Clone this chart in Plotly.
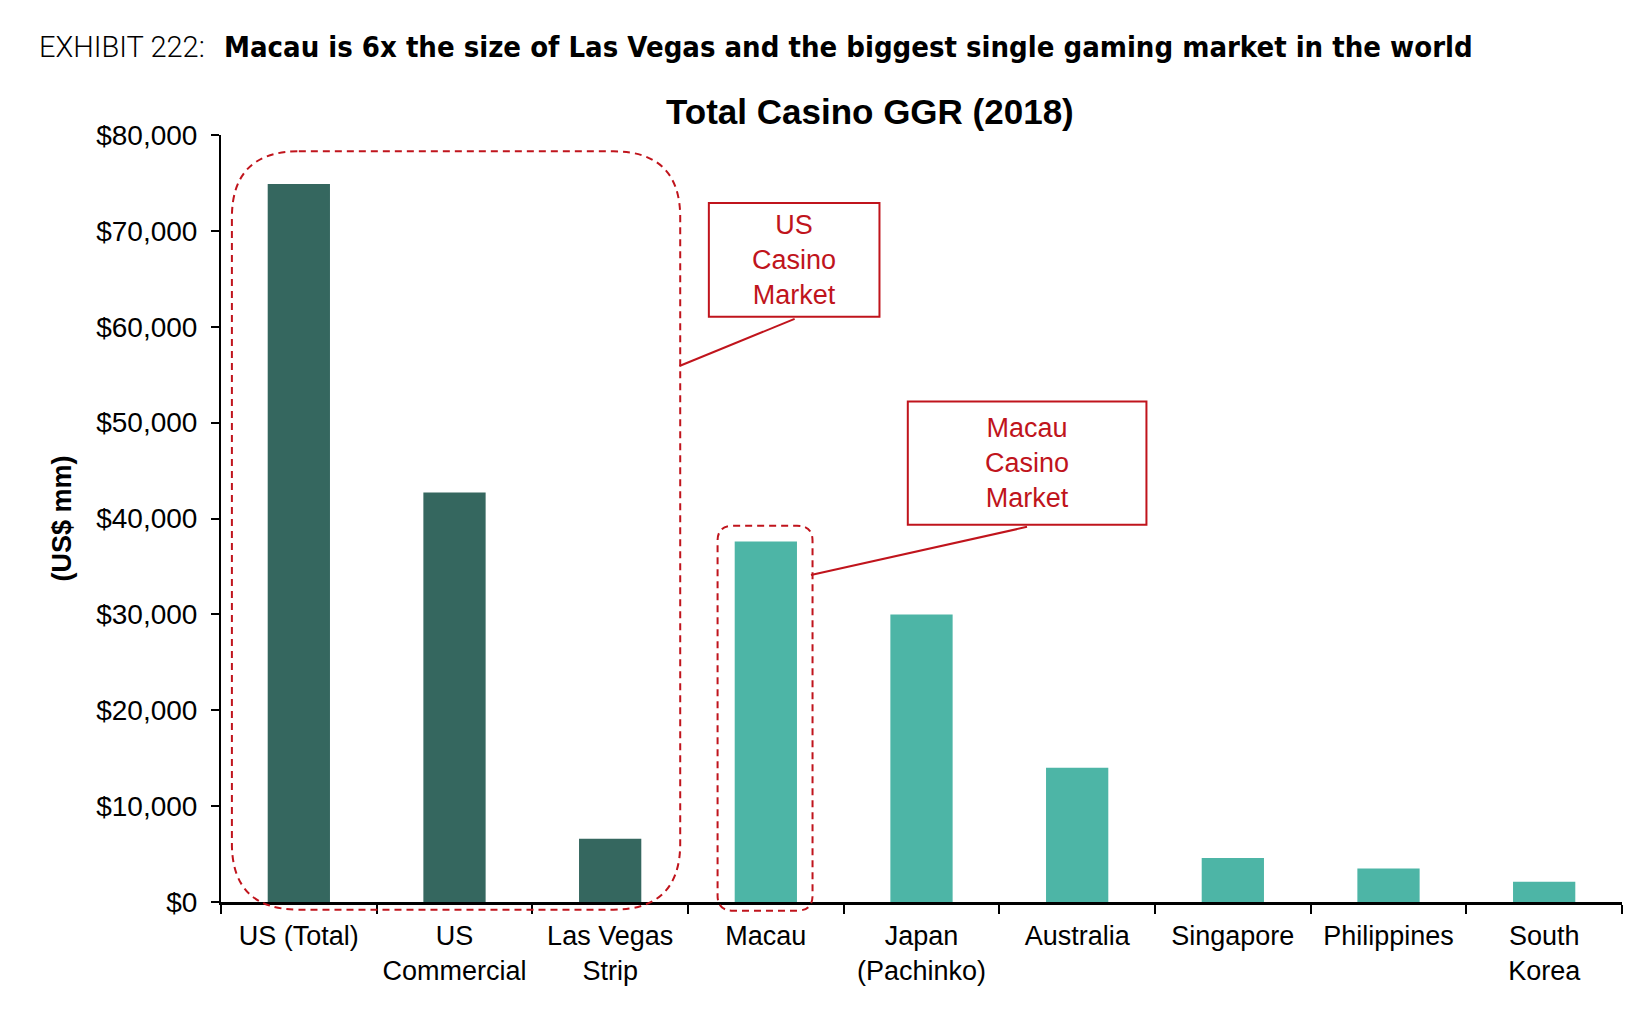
import plotly.graph_objects as go

# Total casino GGR 2018, US$ mm
markets = ['US (Total)', 'US<br>Commercial', 'Las Vegas<br>Strip', 'Macau', 'Japan<br>(Pachinko)',
           'Australia', 'Singapore', 'Philippines', 'South<br>Korea']
ggr = [74900, 42700, 6600, 37600, 30000, 14000, 4600, 3500, 2100]
us_markets = ['US (Total)', 'US<br>Commercial', 'Las Vegas<br>Strip']
y_ticks = [0, 10000, 20000, 30000, 40000, 50000, 60000, 70000, 80000]
y_labels = ['$' + format(v, ',') for v in y_ticks]

DARK = '#35675F'
LIGHT = '#4DB5A6'
RED = '#C0141C'
FONT = 'Liberation Sans, Arial, sans-serif'

W, H = 1640, 1010
L, R, T, B = 213, 26, 127, 116
YMAX = 80000
n = len(markets)
PW, PH = W - L - R, H - T - B

# helpers: data position -> paper position (so shapes aren't clipped to the plot area)
def px(i):
    return (i + 0.5) / n
def py(v):
    return v / YMAX
def pix_x(x):
    return (x - L) / PW
def pix_y(y):
    return (H - B - y) / PH

def rounded(x0, x1, y0, y1, rx, ry):
    a0, a1, b0, b1 = px(x0), px(x1), py(y0), py(y1)
    ax, by = rx / n, ry / YMAX
    return (f'M {a0+ax},{b1} L {a1-ax},{b1} Q {a1},{b1} {a1},{b1-by} '
            f'L {a1},{b0+by} Q {a1},{b0} {a1-ax},{b0} L {a0+ax},{b0} '
            f'Q {a0},{b0} {a0},{b0+by} L {a0},{b1-by} Q {a0},{b1} {a0+ax},{b1} Z')

colors = [DARK if m in us_markets else LIGHT for m in markets]

fig = go.Figure(go.Bar(x=markets, y=ggr, marker=dict(color=colors, line=dict(width=0)),
                       width=0.4, showlegend=False))

dash = dict(color=RED, width=2, dash='7px,5px')
shapes = [
    dict(type='path', xref='paper', yref='paper', path=rounded(-0.43, 2.45, -800, 78300, 0.43, 6900), line=dash),
    dict(type='path', xref='paper', yref='paper', path=rounded(2.69, 3.30, -900, 39240, 0.1, 1550), line=dash),
    dict(type='rect', xref='paper', yref='paper', x0=px(2.634), x1=px(3.73), y0=py(61030), y1=py(72910),
         line=dict(color=RED, width=2), fillcolor='white'),
    dict(type='rect', xref='paper', yref='paper', x0=px(3.912), x1=px(5.445), y0=py(39350), y1=py(52200),
         line=dict(color=RED, width=2), fillcolor='white'),
    dict(type='line', xref='paper', yref='paper', x0=px(3.185), y0=py(60820), x1=px(2.445), y1=py(55910),
         line=dict(color=RED, width=2)),
    dict(type='line', xref='paper', yref='paper', x0=px(4.678), y0=py(39130), x1=px(3.29), y1=py(34110),
         line=dict(color=RED, width=2)),
]

ann = dict(xref='paper', yref='paper', showarrow=False, xanchor='center', yanchor='middle')
annotations = [
    dict(ann, text='US<br>Casino<br>Market', x=px(3.18), y=py(66970),
         font=dict(family=FONT, size=27, color=RED)),
    dict(ann, text='Macau<br>Casino<br>Market', x=px(4.68), y=py(45780),
         font=dict(family=FONT, size=27, color=RED)),
    dict(ann, text='(US$ mm)', x=pix_x(53), y=0.5, textangle=-90,
         font=dict(family=FONT, size=27, color='black', weight='bold')),
    dict(ann, text='Total Casino GGR (2018)', x=pix_x(862), y=pix_y(103),
         font=dict(family=FONT, size=35, color='black', weight='bold')),
    dict(ann, text='EXHIBIT 222:', x=pix_x(29), y=pix_y(39), xanchor='left',
         font=dict(family='Roboto', size=29, color='black', weight=300)),
    dict(ann, text='Macau is 6x the size of Las Vegas and the biggest single gaming market in the world',
         x=pix_x(214), y=pix_y(39), xanchor='left',
         font=dict(family='DejaVu Sans Condensed', size=29, color='black', weight='bold')),
]

fig.update_layout(
    width=W, height=H,
    margin=dict(l=L, r=R, t=T, b=B),
    plot_bgcolor='white', paper_bgcolor='white',
    shapes=shapes, annotations=annotations,
    font=dict(family=FONT, size=28, color='black'),
)
fig.update_xaxes(type='category', showline=True, linecolor='black', linewidth=2.5,
                 ticks='outside', tickson='boundaries', ticklen=9, tickwidth=2, tickcolor='black',
                 tickangle=0, automargin=False, ticklabelstandoff=8,
                 tickfont=dict(family=FONT, size=27, color='black'), showgrid=False)
fig.update_yaxes(range=[0, YMAX], tickmode='array', tickvals=y_ticks, ticktext=y_labels, showline=True,
                 linecolor='black', linewidth=2, ticks='outside', ticklen=8, tickwidth=2, tickcolor='black',
                 automargin=False, ticklabelstandoff=8,
                 tickfont=dict(family=FONT, size=28, color='black'), showgrid=False, zeroline=False)

fig.write_html('out.html')
